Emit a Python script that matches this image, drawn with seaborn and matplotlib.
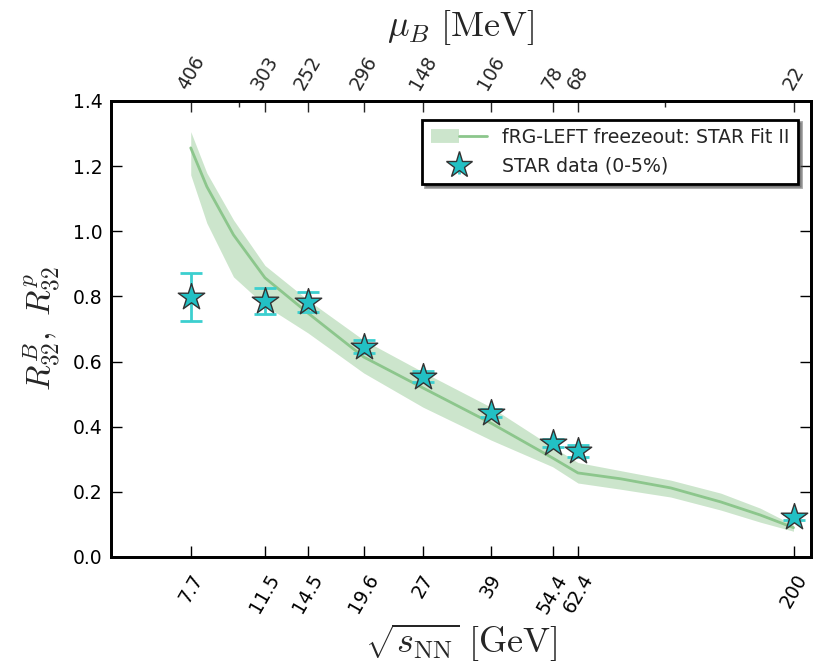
import matplotlib
matplotlib.use("Agg")
import matplotlib.pyplot as plt
from matplotlib.lines import Line2D
from matplotlib.legend_handler import HandlerTuple
import numpy as np
import pandas as pd
import seaborn as sns

# ---- data ----
curve_x = [7.7, 8.4, 9.7, 11.5, 14.5, 19.6, 27, 39, 54.4, 62.4, 78.6, 103, 135, 167, 200]
curve_y = [1.256, 1.137, 0.989, 0.857, 0.749, 0.614, 0.519, 0.411, 0.304, 0.258, 0.240, 0.212, 0.169, 0.129, 0.090]
curve_hi = [1.306, 1.179, 1.035, 0.895, 0.789, 0.666, 0.568, 0.460, 0.338, 0.290, 0.265, 0.236, 0.196, 0.150, 0.098]
curve_lo = [1.173, 1.025, 0.860, 0.772, 0.688, 0.565, 0.460, 0.359, 0.277, 0.227, 0.208, 0.184, 0.144, 0.107, 0.079]

star_x = [7.7, 11.5, 14.5, 19.6, 27, 39, 54.4, 62.4, 200]
star_y = [0.798, 0.785, 0.783, 0.645, 0.554, 0.443, 0.350, 0.326, 0.123]
star_err = [0.075, 0.040, 0.030, 0.020, 0.017, 0.012, 0.012, 0.018, 0.010]

bottom_ticks = [7.7, 11.5, 14.5, 19.6, 27, 39, 54.4, 62.4, 200]
bottom_labels = ["7.7", "11.5", "14.5", "19.6", "27", "39", "54.4", "62.4", "200"]
top_labels = ["406", "303", "252", "296", "148", "106", "78", "68", "22"]

sns.set_style("ticks")
plt.rcParams["font.family"] = ["DejaVu Sans"]
plt.rcParams["mathtext.fontset"] = "cm"

fig = plt.figure(figsize=(8.21, 6.70), dpi=100)
ax = fig.add_axes([0.135, 0.1687, 0.853, 0.6806])

band_color = (0.0, 0.5, 0.0, 0.2)
line_color = "#8cc68c"

df_curve = pd.DataFrame({"x": curve_x, "y": curve_y})
ax.fill_between(curve_x, curve_lo, curve_hi, color=band_color, linewidth=0)
sns.lineplot(data=df_curve, x="x", y="y", ax=ax, color=line_color, linewidth=2, zorder=3)

ax.errorbar(star_x, star_y, yerr=star_err, fmt="none", ecolor="#3ccfcf",
            elinewidth=2, capsize=8, capthick=2, zorder=4)
df_star = pd.DataFrame({"x": star_x, "y": star_y})
sns.scatterplot(data=df_star, x="x", y="y", ax=ax, marker="*", s=400,
                color="#22c0c4", edgecolor="#333333", linewidth=1, zorder=5)

ax.set_xscale("log")
ax.set_xlim(5.0, 220)
ax.set_ylim(0.0, 1.4)
ax.set_yticks(np.arange(0, 1.41, 0.2))
ax.set_yticklabels([f"{v:.1f}" for v in np.arange(0, 1.41, 0.2)])
ax.set_xticks(bottom_ticks)
ax.set_xticklabels(bottom_labels, rotation=60)
ax.minorticks_off()
ax.set_xticks([], minor=True)
ax.tick_params(axis="both", which="major", direction="in", length=8, width=1,
               labelsize=13.5, color="black", labelcolor="black")
ax.tick_params(axis="y", right=True, pad=6)
ax.tick_params(axis="x", pad=10)
for sp in ax.spines.values():
    sp.set_visible(True)
    sp.set_linewidth(2)
    sp.set_color("black")

ax.set_xlabel(r"$\sqrt{s_{\rm NN}}\ [\rm GeV]$", fontsize=26, labelpad=4)
ax.set_ylabel(r"$R_{32}^{B},\ R_{32}^{p}$", fontsize=24, labelpad=8)

ax2 = ax.twiny()
ax2.set_xscale("log")
ax2.set_xlim(ax.get_xlim())
ax2.set_xticks(bottom_ticks)
ax2.set_xticklabels(top_labels, rotation=60)
ax2.set_xticks([10, 100], minor=True)
ax2.set_xticklabels([], minor=True)
ax2.tick_params(axis="x", which="major", direction="in", length=8, width=1, labelsize=13.5, pad=6)
ax2.tick_params(axis="x", which="minor", direction="in", length=4, width=1)
ax2.set_xlabel(r"$\mu_B\ [\rm MeV]$", fontsize=26, labelpad=12)
for sp in ax2.spines.values():
    sp.set_linewidth(2)
    sp.set_color("black")

h_band = Line2D([], [], color=band_color, linewidth=10, solid_capstyle="butt")
h_line = Line2D([], [], color=line_color, linewidth=2)
h_err = ax.errorbar([], [], yerr=[], fmt="*", color="#22c0c4", ecolor="#3ccfcf",
                    markersize=20, markeredgecolor="#333333", markeredgewidth=1,
                    elinewidth=2, capsize=8, capthick=2)
leg = ax.legend([(h_band, h_line), h_err],
                ["fRG-LEFT freezeout: STAR Fit II", "STAR data (0-5%)"],
                handler_map={tuple: HandlerTuple(ndivide=None, pad=0)},
                loc="upper right", bbox_to_anchor=(0.995, 0.98), fontsize=13.6,
                frameon=True, fancybox=False, shadow=True, framealpha=1,
                borderpad=0.45, handlelength=3.0)
leg.get_frame().set_edgecolor("black")
leg.get_frame().set_linewidth(2)

fig.savefig("out.png", dpi=100)
